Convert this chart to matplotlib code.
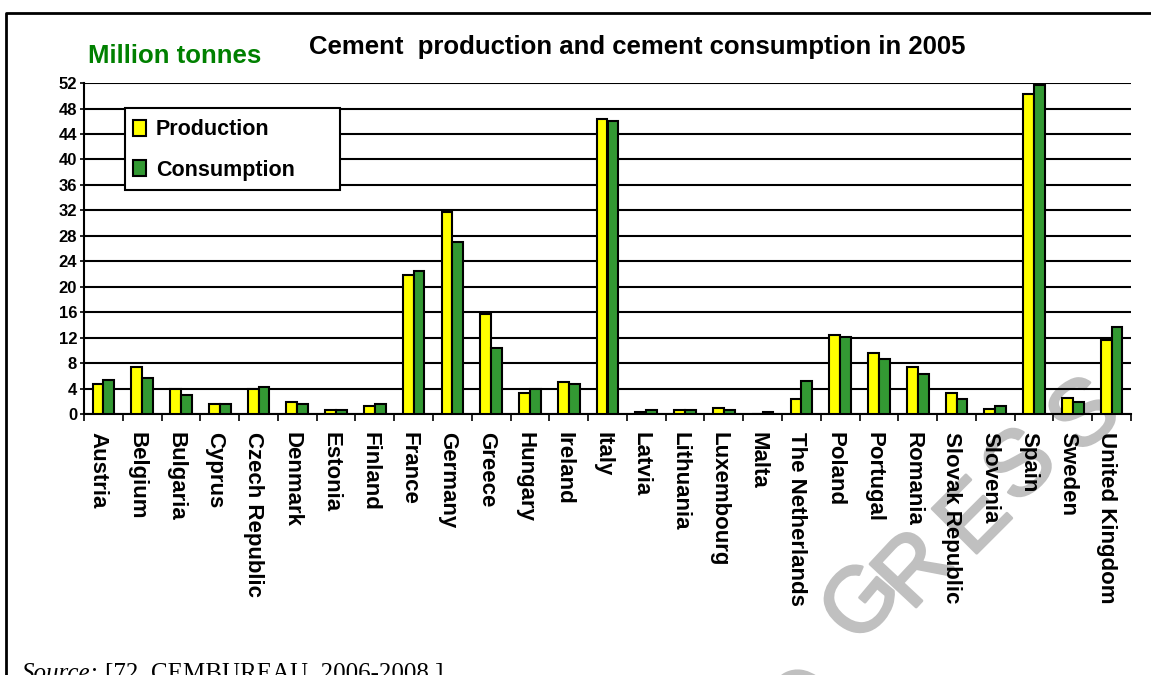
import numpy as np
import matplotlib
matplotlib.use("Agg")
import matplotlib.pyplot as plt
import matplotlib.transforms as mtransforms
import matplotlib.patheffects as pe
from matplotlib.lines import Line2D
from matplotlib.patches import Rectangle, Patch

countries = ["Austria", "Belgium", "Bulgaria", "Cyprus", "Czech Republic", "Denmark",
             "Estonia", "Finland", "France", "Germany", "Greece", "Hungary", "Ireland",
             "Italy", "Latvia", "Lithuania", "Luxembourg", "Malta", "The Netherlands",
             "Poland", "Portugal", "Romania", "Slovak Republic", "Slovenia", "Spain",
             "Sweden", "United Kingdom"]
production = [4.7, 7.4, 4.0, 1.6, 4.0, 1.9, 0.6, 1.3, 21.8, 31.8, 15.7, 3.3, 5.0,
              46.3, 0.3, 0.6, 1.0, 0.0, 2.4, 12.4, 9.7, 7.4, 3.3, 0.9, 50.3, 2.6, 11.7]
consumption = [5.4, 5.7, 3.0, 1.6, 4.3, 1.6, 0.6, 1.6, 22.5, 27.1, 10.4, 4.0, 4.7,
               46.0, 0.6, 0.6, 0.7, 0.3, 5.3, 12.1, 8.7, 6.3, 2.4, 1.3, 51.7, 1.9, 13.7]
yticks = list(range(0, 53, 4))

W, H = 1151, 675
fig = plt.figure(figsize=(W / 100, H / 100), dpi=100)
plt.rcParams["font.family"] = ["Liberation Sans", "DejaVu Sans"]

ax = fig.add_axes([84 / W, 1 - 414.3 / H, (1131 - 84) / W, (414.3 - 82.7) / H])
ax.patch.set_visible(False)

x = np.arange(len(countries))
bw = 0.28
ax.bar(x - bw / 2, production, bw, color="#ffff00", edgecolor="black", lw=1.5, zorder=3)
ax.bar(x + bw / 2, consumption, bw, color="#339933", edgecolor="black", lw=1.5, zorder=3)

ax.set_xlim(-0.5, len(countries) - 0.5)
ax.set_ylim(0, 52.05)
ax.set_yticks(yticks)
ax.set_yticklabels([str(v) for v in yticks], fontsize=12, fontweight="bold")
ax.yaxis.grid(True, color="black", lw=1.5, zorder=1)
ax.set_axisbelow(True)
ax.tick_params(axis="y", length=3, width=1.2, pad=2)

ax.set_xticks(x)
ax.set_xticklabels(countries, rotation=-90, fontsize=16, fontweight="bold")
ax.set_xticks(np.arange(-0.5, len(countries), 1), minor=True)
ax.tick_params(axis="x", which="major", length=0, pad=13)
ax.tick_params(axis="x", which="minor", length=5, width=1.2)
shift = mtransforms.ScaledTranslation(-5 / 100, 0, fig.dpi_scale_trans)
for lab in ax.get_xticklabels():
    lab.set_transform(lab.get_transform() + shift)

for s in ["top", "right"]:
    ax.spines[s].set_visible(False)
ax.spines["left"].set_linewidth(1.5)
ax.spines["bottom"].set_linewidth(1.5)

# legend: box drawn by hand so the right padding matches
fig.add_artist(Rectangle((125 / W, 1 - 190 / H), 215 / W, 82 / H,
                         transform=fig.transFigure, facecolor="white",
                         edgecolor="black", lw=1.5, zorder=4))
handles = [Patch(facecolor="#ffff00", edgecolor="black", lw=1.5),
           Patch(facecolor="#339933", edgecolor="black", lw=1.5)]
leg = fig.legend(handles, ["Production", "Consumption"], loc="upper left",
                 bbox_to_anchor=(127 / W, 1 - 113 / H), borderaxespad=0,
                 prop={"weight": "bold", "size": 15.5}, frameon=False,
                 handlelength=0.6, handleheight=0.75, handletextpad=0.45,
                 labelspacing=0.9, borderpad=0.3)
leg.set_zorder(5)

fig.text(637 / W, 1 - 47 / H, "Cement  production and cement consumption in 2005",
         ha="center", va="center", fontsize=18.5, fontweight="bold")
fig.text(88 / W, 1 - 56 / H, "Million tonnes", ha="left", va="center",
         fontsize=18.5, fontweight="bold", color="#008000")

src = fig.text(22 / W, -10 / H, "Source:", ha="left", va="bottom", fontsize=18,
               family="Liberation Serif", style="italic")
ax.annotate("[72, CEMBUREAU, 2006-2008.]", xy=(1, 0), xycoords=src,
            xytext=(4, 0), textcoords="offset points", ha="left", va="bottom",
            fontsize=18, family="Liberation Serif", annotation_clip=False)

# outer frame of the figure panel
fig.add_artist(Line2D([6 / W, 6 / W, 1], [0, 1 - 13 / H, 1 - 13 / H],
                      transform=fig.transFigure, color="black", lw=2))

# watermark letters along an arc, behind the chart
wm = "#c0c0c0"
for ch, cx, cy, rot in [("O", 806, 708, 55), ("G", 864, 604, 50), ("R", 916, 572, 47),
                        ("E", 976, 520, 45), ("S", 1022, 468, 42), ("S", 1086, 418, 38)]:
    fig.text(cx / W, 1 - cy / H, ch, ha="center", va="center", fontsize=66,
             color=wm, rotation=rot, zorder=-5,
             path_effects=[pe.withStroke(linewidth=2, foreground=wm)])

fig.savefig("out.png", dpi=100)
